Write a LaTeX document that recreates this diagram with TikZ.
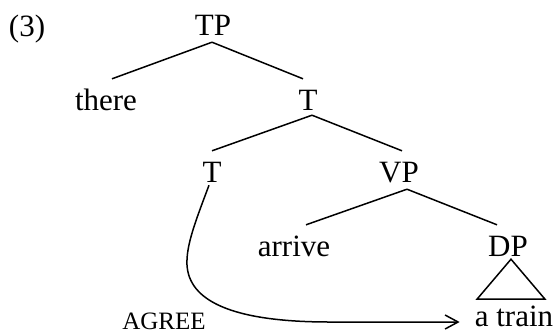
\documentclass[tikz,border=0pt]{standalone}
\usepackage{fontspec}
\setmainfont{Liberation Serif}
\usetikzlibrary{arrows.meta, positioning}

\begin{document}
\begin{tikzpicture}[
            x=1pt, y=-1pt,
            cat/.style={anchor=base, inner sep=0pt, text height=31pt, text depth=7pt,
                    font=\fontsize{31}{36}\selectfont},
            branch/.style={line width=1.5pt},
            agree/.style={-{Straight Barb[length=13pt, width=14pt]}, line width=1.5pt}
        ]
        \useasboundingbox (0,0) rectangle (556,333);

        % Tree nodes
        \node[cat] (ex) at (27, 36) {(3)};
        \node[cat] (tp) at (213, 35) {TP};
        \node[cat] (there) at (106, 110) {there};
        \node[cat] (tbar) at (308, 110) {T};
        \node[cat] (t) at (212, 182) {T};
        \node[cat] (vp) at (399, 182) {VP};
        \node[cat] (arrive) at (294, 256) {arrive};
        \node[cat] (dp) at (508, 256) {DP};
        \node[cat] (train) at (514, 326) {a train};
        \node[anchor=base, inner sep=0pt, font=\fontsize{25}{29}\selectfont] (agreelbl) at (164, 329) {AGREE};

        % Branches
        \draw[branch] ([xshift=-1pt]tp.south) -- ([xshift=6pt]there.north);
        \draw[branch] ([xshift=-1pt]tp.south) -- ([xshift=-5pt]tbar.north);
        \draw[branch] ([xshift=4pt, yshift=2pt]tbar.south) -- (t.north);
        \draw[branch] ([xshift=4pt, yshift=2pt]tbar.south) -- ([xshift=3pt]vp.north);
        \draw[branch] ([xshift=8pt]vp.south) -- ([xshift=12pt]arrive.north);
        \draw[branch] ([xshift=8pt]vp.south) -- ([xshift=-11pt]dp.north);

        % Triangle over a train
        \draw[branch] ([xshift=3pt, yshift=4pt]dp.south) -- ++(-34,40) -- ++(68,0) -- cycle;

        % Agree arrow
        \draw[agree] ([xshift=-3pt, yshift=4pt]t.south) .. controls (196,220) and (186,245) .. (187,265)
            .. controls (189,300) and (230,322) .. (330,322) -- ([xshift=-15pt, yshift=4pt]train.base west);
    \end{tikzpicture}
\end{document}
